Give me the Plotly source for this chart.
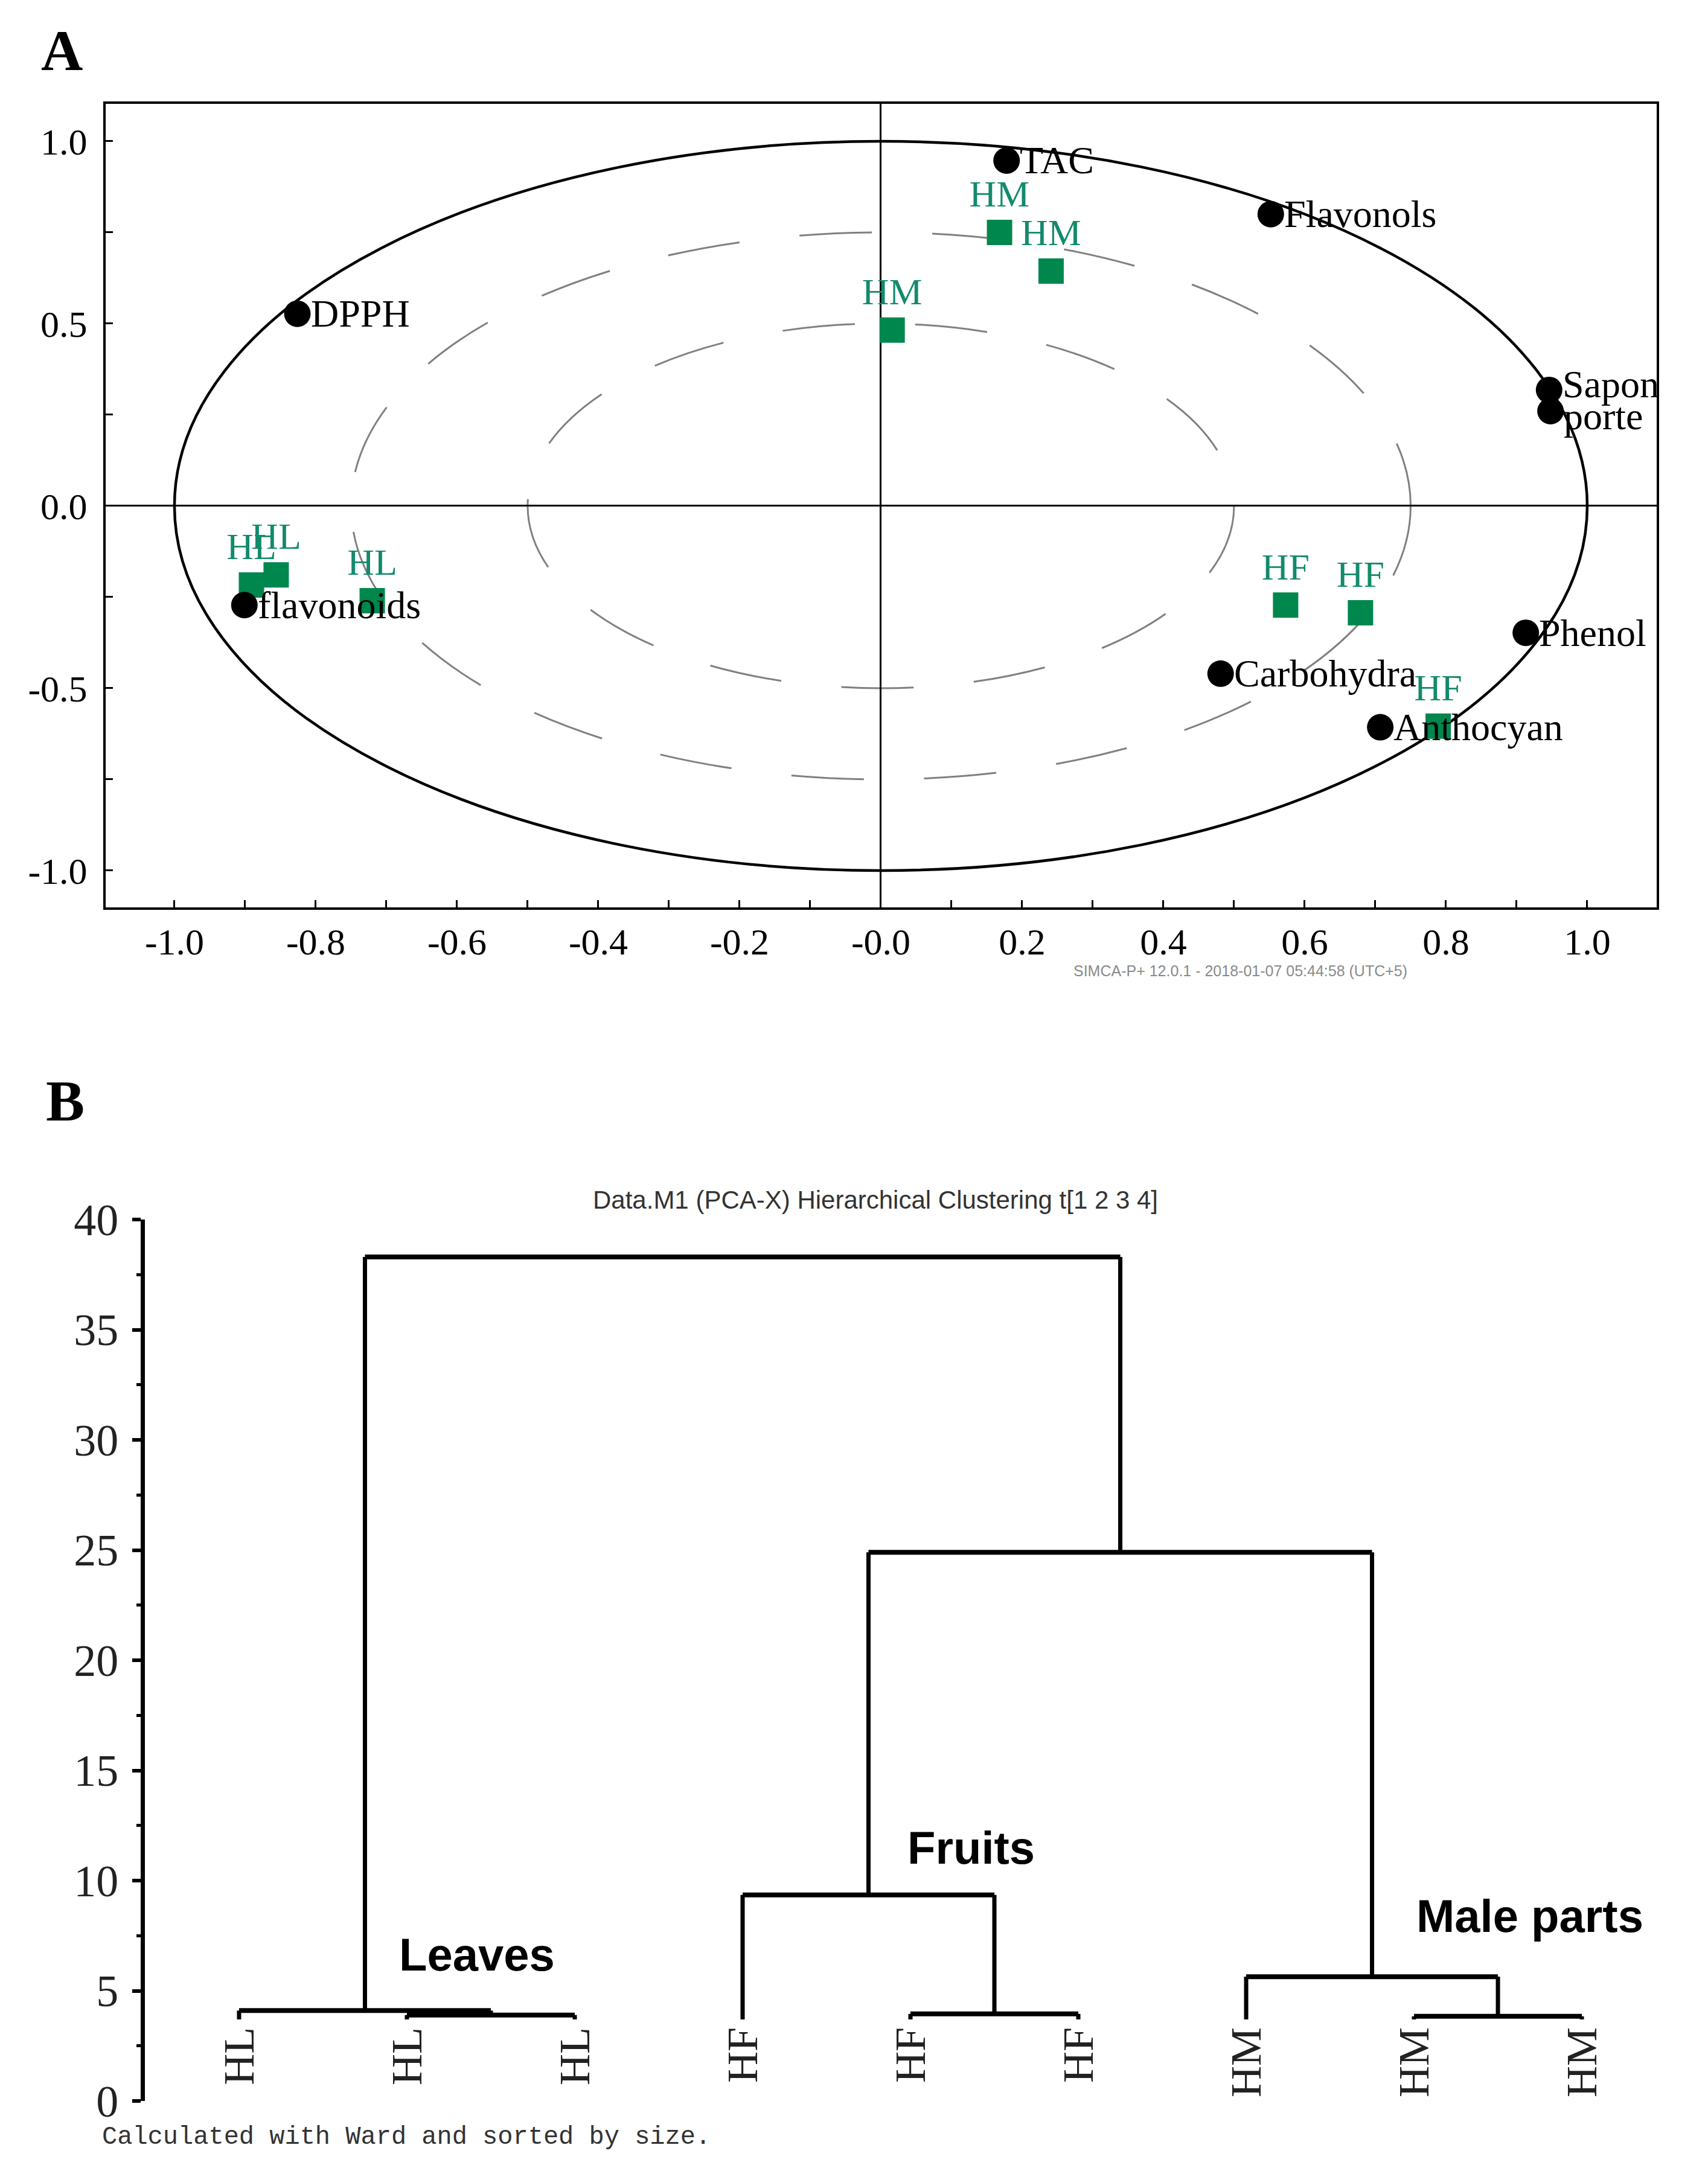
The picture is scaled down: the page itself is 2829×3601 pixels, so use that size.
import plotly.graph_objects as go

W, H = 2829, 3601

# ---------------- Panel A data (PCA loadings / scores) ----------------
var_names = ["TAC", "Flavonols", "DPPH", "Sapon", "porte", "flavonoids",
             "Phenol", "Carbohydra", "Anthocyan"]
var_x = [0.178, 0.552, -0.826, 0.946, 0.948, -0.901, 0.913, 0.481, 0.707]
var_y = [0.947, 0.800, 0.527, 0.318, 0.260, -0.272, -0.348, -0.460, -0.607]

obs_names = ["HM", "HM", "HM", "HL", "HL", "HL", "HF", "HF", "HF"]
obs_x = [0.168, 0.241, 0.016, -0.891, -0.856, -0.720, 0.573, 0.679, 0.789]
obs_y = [0.750, 0.644, 0.482, -0.217, -0.189, -0.260, -0.272, -0.293, -0.604]

circle_radii = [1.0, 0.75, 0.5]

xa_ticks = [-1.0, -0.8, -0.6, -0.4, -0.2, 0.0, 0.2, 0.4, 0.6, 0.8, 1.0]
xa_ticktext = ["-1.0", "-0.8", "-0.6", "-0.4", "-0.2", "-0.0", "0.2", "0.4", "0.6", "0.8", "1.0"]
xa_minor = [-0.9, -0.7, -0.5, -0.3, -0.1, 0.1, 0.3, 0.5, 0.7, 0.9]
ya_ticks = [1.0, 0.5, 0.0, -0.5, -1.0]
ya_ticktext = ["1.0", "0.5", "0.0", "-0.5", "-1.0"]
ya_minor = [0.75, 0.25, -0.25, -0.75]

# ---------------- Panel B data (dendrogram) ----------------
leaf_labels = ["HL", "HL", "HL", "HF", "HF", "HF", "HM", "HM", "HM"]
leaf_height = 3.7
merge_children = [(1, 2), (0, 9), (4, 5), (3, 11), (7, 8), (6, 13), (12, 14), (10, 15)]
merge_heights = [3.9, 4.1, 3.95, 9.35, 3.84, 5.64, 24.9, 38.3]
cluster_names = ["Leaves", "Fruits", "Male parts"]
yb_ticks = [0, 5, 10, 15, 20, 25, 30, 35, 40]

# ---------------- geometry helpers ----------------
def px_x(p):
    return p / W

def px_y(p):
    return 1 - p / H

green_text = "#138a6c"
green_mark = "#00874e"
serif = "Liberation Serif, Times New Roman, serif"
sans = "Liberation Sans, Arial, sans-serif"

fig = go.Figure()

# Panel A traces
fig.add_trace(go.Scatter(
    x=obs_x, y=obs_y, mode="markers+text", text=obs_names,
    textposition="top center",
    textfont=dict(family=serif, size=62, color=green_text),
    marker=dict(symbol="square", size=42, color=green_mark),
    xaxis="x", yaxis="y", showlegend=False, cliponaxis=False))

fig.add_trace(go.Scatter(
    x=var_x, y=var_y, mode="markers",
    marker=dict(symbol="circle", size=44, color="black"),
    xaxis="x", yaxis="y", showlegend=False, cliponaxis=False))

shapes = []
for r in circle_radii:
    outer = (r == max(circle_radii))
    shapes.append(dict(
        type="circle", xref="x", yref="y", x0=-r, x1=r, y0=-r, y1=r,
        line=dict(color="black" if outer else "#808080",
                  width=4.5 if outer else 3,
                  dash="solid" if outer else "120px,100px"),
        layer="below"))

annotations = []
label_yshift = {"Sapon": 9, "porte": -9}
for name, vx_, vy_ in zip(var_names, var_x, var_y):
    annotations.append(dict(x=vx_, y=vy_, xref="x", yref="y", text=name, showarrow=False,
                            xanchor="left", yanchor="middle", xshift=20,
                            yshift=label_yshift.get(name, 0),
                            font=dict(family=serif, size=64, color="black")))

# Panel B dendrogram built from the merge table
node_x = {i: float(i) for i in range(len(leaf_labels))}
node_h = {i: leaf_height for i in range(len(leaf_labels))}
vx, vy, hx, hy = [], [], [], []
for k, ((a, b), h) in enumerate(zip(merge_children, merge_heights)):
    nid = len(leaf_labels) + k
    for c in (a, b):
        vx += [node_x[c], node_x[c], None]
        vy += [node_h[c], h, None]
    hx += [node_x[a], node_x[b], None]
    hy += [h, h, None]
    node_x[nid] = (node_x[a] + node_x[b]) / 2
    node_h[nid] = h

fig.add_trace(go.Scatter(x=vx, y=vy, mode="lines", line=dict(color="black", width=7),
                         xaxis="x2", yaxis="y2", showlegend=False, hoverinfo="skip"))
fig.add_trace(go.Scatter(x=hx, y=hy, mode="lines", line=dict(color="black", width=8),
                         xaxis="x2", yaxis="y2", showlegend=False, hoverinfo="skip"))

# leaf labels, rotated
for i, lab in enumerate(leaf_labels):
    annotations.append(dict(x=i, y=3.4, xref="x2", yref="y2", text=lab, textangle=-90,
                            showarrow=False, xanchor="center", yanchor="top",
                            font=dict(family=serif, size=72, color="#222222")))
# cluster labels
cl_pos = [(1.417, 6.65), (4.36, 11.5), (7.69, 8.4)]
for name, (cx, cy) in zip(cluster_names, cl_pos):
    annotations.append(dict(x=cx, y=cy, xref="x2", yref="y2", text="<b>%s</b>" % name,
                            showarrow=False, xanchor="center", yanchor="middle",
                            font=dict(family=sans, size=76, color="black")))

annotations += [
    dict(x=px_x(94), y=px_y(76), xref="paper", yref="paper", text="<b>A</b>",
         showarrow=False, xanchor="center", yanchor="middle",
         font=dict(family=serif, size=96, color="black")),
    dict(x=px_x(100), y=px_y(1815), xref="paper", yref="paper", text="<b>B</b>",
         showarrow=False, xanchor="center", yanchor="middle",
         font=dict(family=serif, size=96, color="black")),
    dict(x=px_x(1768), y=px_y(1600), xref="paper", yref="paper",
         text="SIMCA-P+ 12.0.1 - 2018-01-07 05:44:58 (UTC+5)",
         showarrow=False, xanchor="left", yanchor="middle",
         font=dict(family=sans, size=25, color="#8a8a8a")),
    dict(x=px_x(1442), y=px_y(1979), xref="paper", yref="paper",
         text="Data.M1 (PCA-X) Hierarchical Clustering t[1 2 3 4]",
         showarrow=False, xanchor="center", yanchor="middle",
         font=dict(family=sans, size=42, color="#333333")),
    dict(x=px_x(159), y=px_y(3532), xref="paper", yref="paper",
         text="Calculated with Ward and sorted by size.",
         showarrow=False, xanchor="left", yanchor="middle",
         font=dict(family="Liberation Mono, Courier New, monospace", size=42, color="#333333")),
]

fig.update_layout(
    width=W, height=H, autosize=False,
    margin=dict(l=0, r=0, t=0, b=0, pad=0),
    paper_bgcolor="white", plot_bgcolor="white",
    showlegend=False,
    shapes=shapes,
    annotations=annotations,
    xaxis=dict(domain=[px_x(167), px_x(2736)], range=[-1.0974, 1.0983], anchor="y",
               automargin=False,
               showgrid=False, zeroline=True, zerolinecolor="black", zerolinewidth=3,
               showline=True, linecolor="black", linewidth=4, mirror=True,
               tickmode="array", tickvals=xa_ticks, ticktext=xa_ticktext,
               ticks="inside", ticklen=12, tickwidth=3, tickcolor="black",
               minor=dict(tickvals=xa_minor, ticks="inside", ticklen=12, tickwidth=3, tickcolor="black"),
               tickfont=dict(family=serif, size=62, color="black"), ticklabelstandoff=0),
    yaxis=dict(domain=[px_y(1495), px_y(164)], range=[-1.101, 1.1026], anchor="x",
               automargin=False,
               showgrid=False, zeroline=True, zerolinecolor="black", zerolinewidth=3,
               showline=True, linecolor="black", linewidth=4, mirror=True,
               tickmode="array", tickvals=ya_ticks, ticktext=ya_ticktext,
               ticks="inside", ticklen=12, tickwidth=3, tickcolor="black",
               minor=dict(tickvals=ya_minor, ticks="inside", ticklen=12, tickwidth=3, tickcolor="black"),
               tickfont=dict(family=serif, size=62, color="black"), ticklabelstandoff=14),
    xaxis2=dict(domain=[px_x(232), px_x(2800)], range=[-0.561, 8.676], anchor="y2",
                automargin=False,
                visible=False, showgrid=False, zeroline=False),
    yaxis2=dict(domain=[px_y(3472), px_y(2012)], range=[0, 40], anchor="x2",
                automargin=False,
                showgrid=False, zeroline=False, showline=True, linecolor="black", linewidth=7,
                tickmode="array", tickvals=yb_ticks, ticks="outside", ticklen=14, tickwidth=6,
                tickcolor="black",
                minor=dict(dtick=2.5, ticks="outside", ticklen=7, tickwidth=5, tickcolor="black"),
                tickfont=dict(family=serif, size=74, color="#222222"), ticklabelstandoff=8),
)

fig.write_html("out.html")
